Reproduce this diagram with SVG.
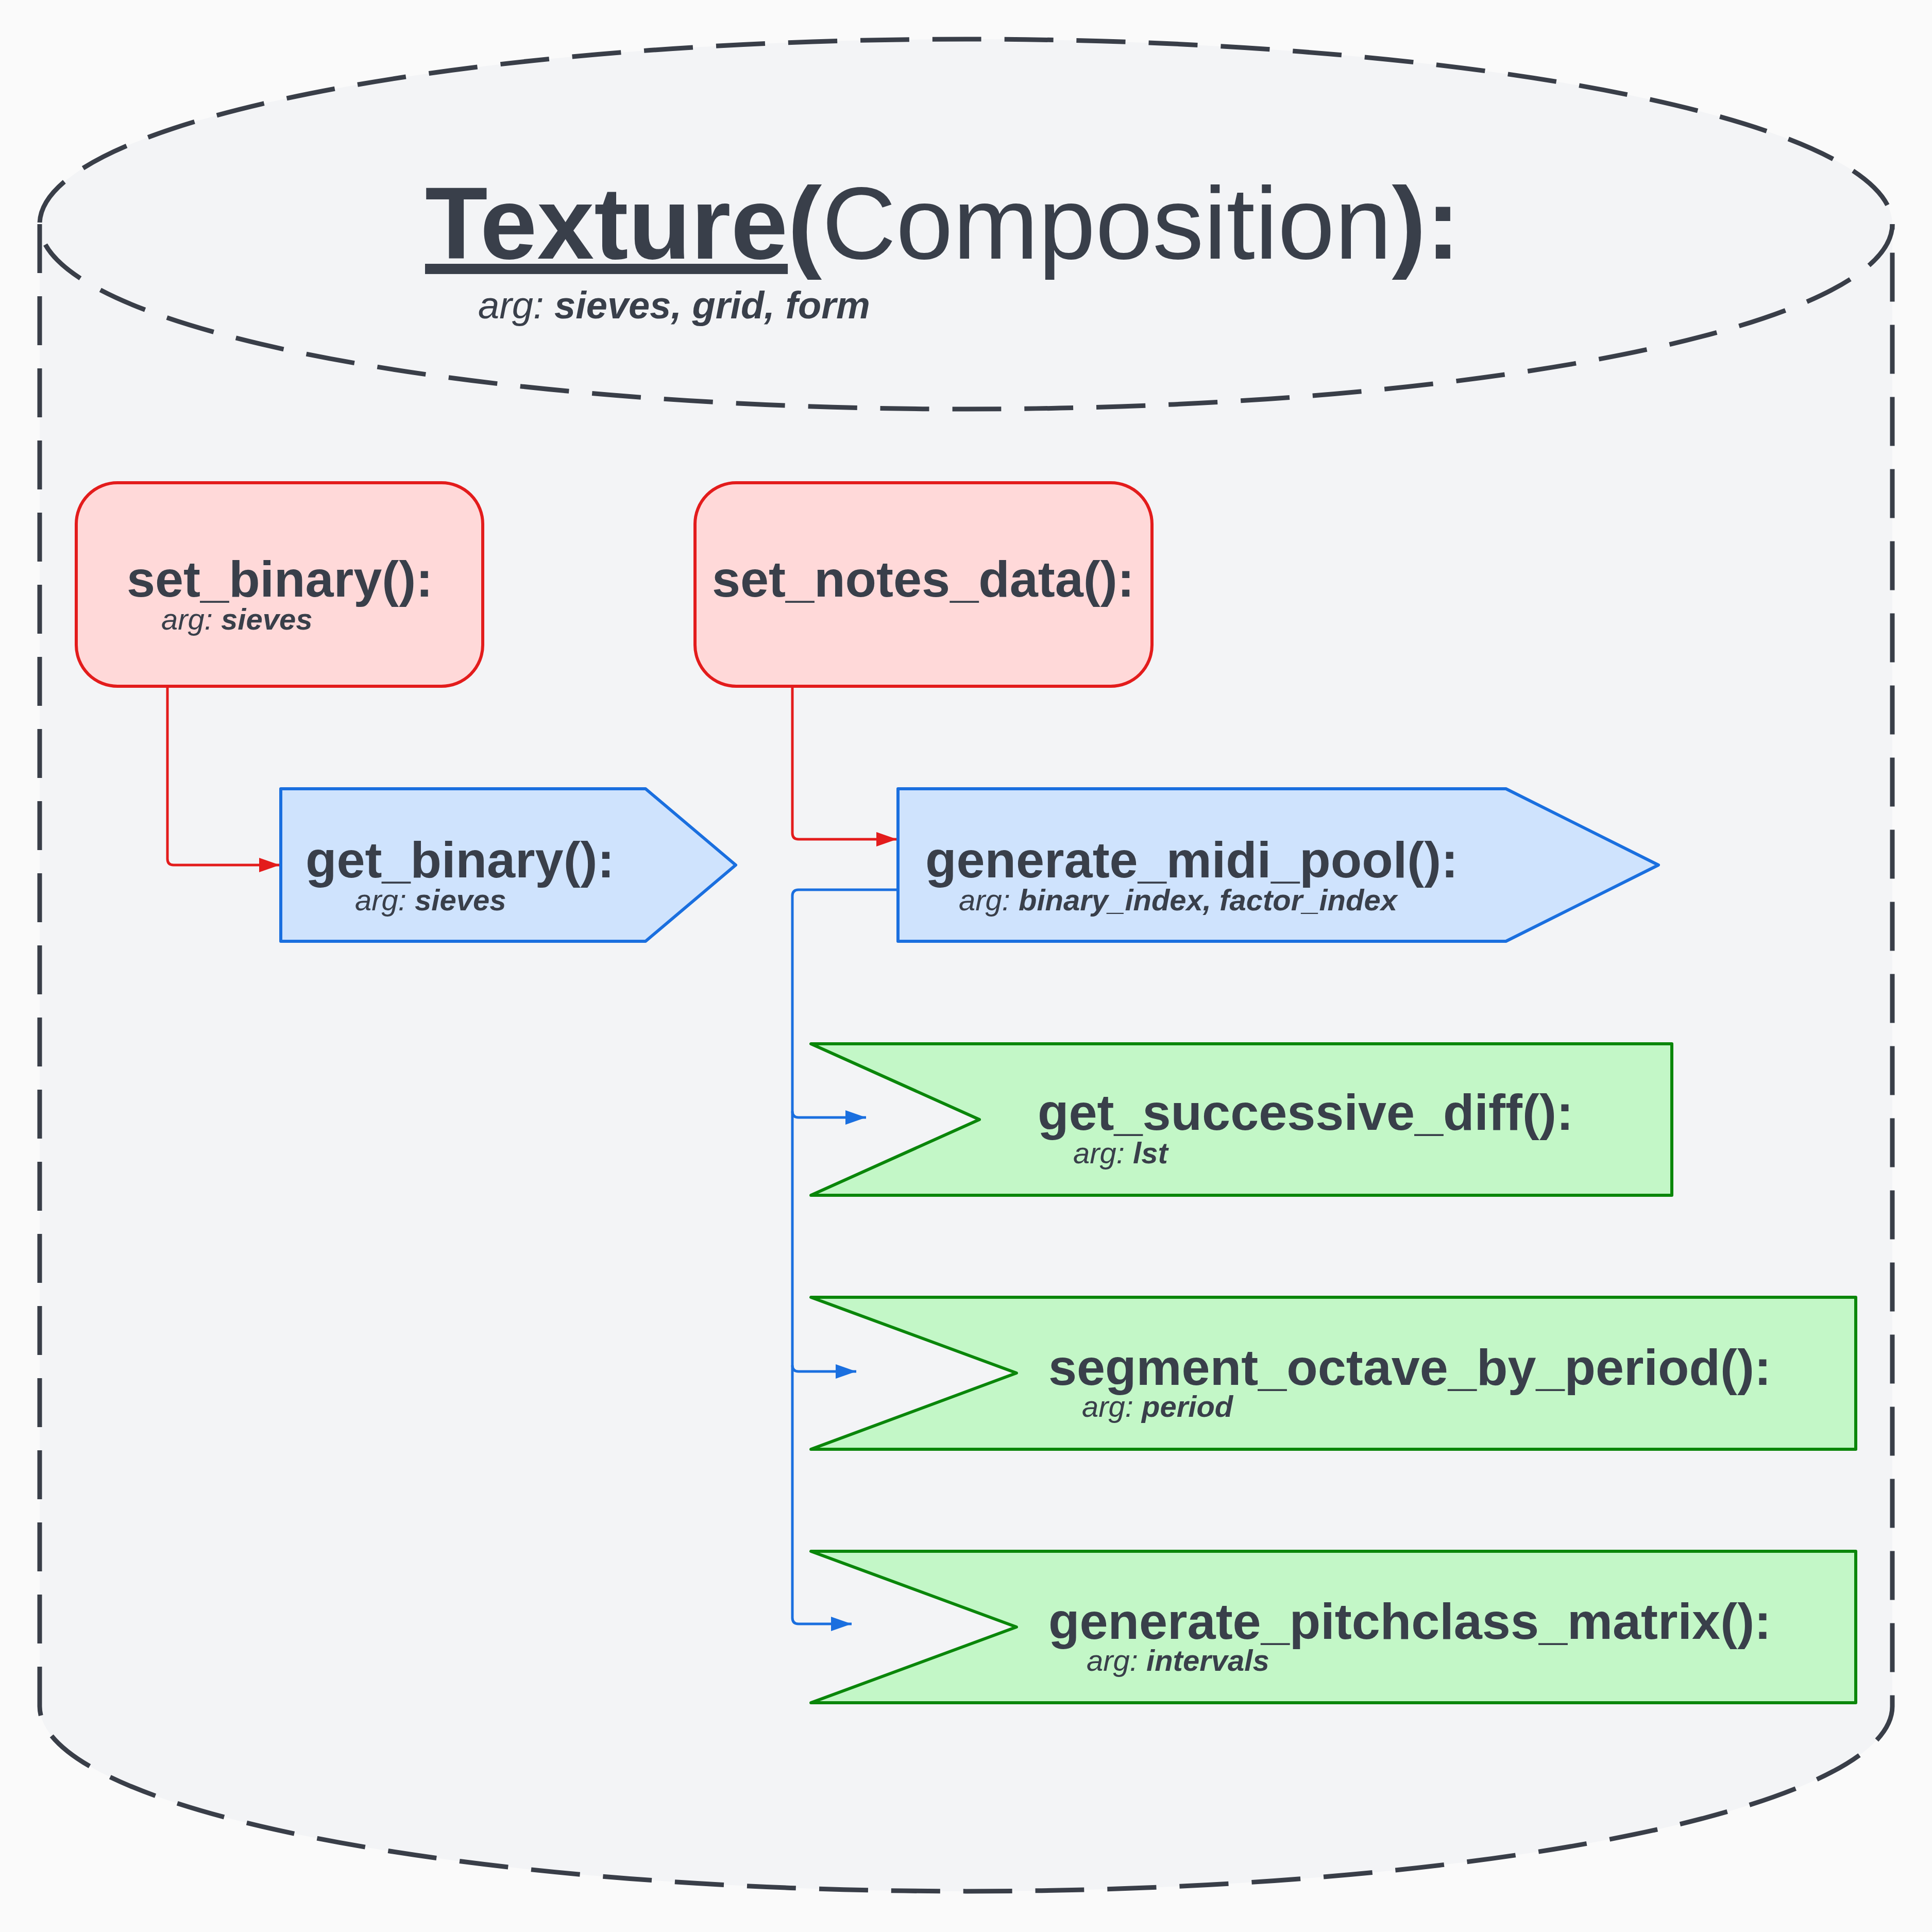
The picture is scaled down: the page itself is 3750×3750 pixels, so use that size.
<svg xmlns="http://www.w3.org/2000/svg" width="3750" height="3750" viewBox="0 0 3750 3750">
<style>
text{font-family:"Liberation Sans",Arial,sans-serif;fill:#393f4a}
.fn{font-weight:bold;font-size:99px}
.arg{font-style:italic;font-size:58px}
.arg tspan{font-weight:bold}
.red{fill:#ffd9d9;stroke:#e31c1c;stroke-width:6}
.blue{fill:#cfe3fd;stroke:#1a6fdf;stroke-width:6;stroke-linejoin:round}
.green{fill:#c3f7c7;stroke:#0a860a;stroke-width:6;stroke-linejoin:round}
.cyl{fill:none;stroke:#393e48;stroke-width:9;stroke-dasharray:95 45}
.cr{fill:none;stroke:#e31c1c;stroke-width:5}
.cb{fill:none;stroke:#1a6fdf;stroke-width:5}
</style>
<defs>
<marker id="ar" markerUnits="userSpaceOnUse" markerWidth="42" markerHeight="28" refX="40" refY="14" orient="auto"><path d="M0,0 L40,14 L0,28 Z" fill="#e31c1c"/></marker>
<marker id="ab" markerUnits="userSpaceOnUse" markerWidth="42" markerHeight="28" refX="40" refY="14" orient="auto"><path d="M0,0 L40,14 L0,28 Z" fill="#1a6fdf"/></marker>
</defs>
<rect width="3750" height="3750" fill="#fafafa"/>
<g id="container">
<path d="M77 435 L77 3312 A1798 359 0 0 0 3673 3312 L3673 435 A1798 359 0 0 0 77 435 Z" fill="#f3f4f6"/>
<path class="cyl" d="M77 435 L77 3312 A1798 359 0 0 0 3673 3312 L3673 435"/>
<ellipse class="cyl" cx="1875" cy="435" rx="1798" ry="359"/>
<text x="825" y="502" font-size="199"><tspan font-weight="bold" text-decoration="underline">Texture</tspan><tspan font-weight="bold">(</tspan>Composition<tspan font-weight="bold">):</tspan></text>
<text class="arg" x="928" y="618" style="font-size:74px">arg: <tspan>sieves, grid, form</tspan></text>
</g>
<g id="connectors">
<path class="cr" d="M325 1332 L325 1667 Q325 1679 337 1679 L543 1679" marker-end="url(#ar)"/>
<path class="cr" d="M1538 1332 L1538 1617 Q1538 1629 1550 1629 L1741 1629" marker-end="url(#ar)"/>
<path class="cb" d="M1743 1727 L1550 1727 Q1538 1727 1538 1739 L1538 3140 Q1538 3152 1550 3152 L1653 3152" marker-end="url(#ab)"/>
<path class="cb" d="M1538 2157 Q1538 2169 1550 2169 L1681 2169" marker-end="url(#ab)"/>
<path class="cb" d="M1538 2650 Q1538 2662 1550 2662 L1662 2662" marker-end="url(#ab)"/>
</g>
<g id="set_binary">
<rect class="red" x="148" y="937" width="789" height="395" rx="80" ry="80"/>
<text class="fn" x="246" y="1158">set_binary():</text>
<text class="arg" x="313" y="1222">arg: <tspan>sieves</tspan></text>
</g>
<g id="set_notes_data">
<rect class="red" x="1349" y="937" width="887" height="395" rx="80" ry="80"/>
<text class="fn" x="1382" y="1158">set_notes_data():</text>
</g>
<g id="get_binary">
<path class="blue" d="M545 1531 L1253 1531 L1428 1679 L1253 1827 L545 1827 Z"/>
<text class="fn" x="593" y="1703">get_binary():</text>
<text class="arg" x="689" y="1767">arg: <tspan>sieves</tspan></text>
</g>
<g id="generate_midi_pool">
<path class="blue" d="M1743 1531 L2923 1531 L3219 1679 L2923 1827 L1743 1827 Z"/>
<text class="fn" x="1796" y="1703">generate_midi_pool():</text>
<text class="arg" x="1861" y="1767">arg: <tspan>binary_index, factor_index</tspan></text>
</g>
<g id="get_successive_diff">
<path class="green" d="M1574 2026 L3245 2026 L3245 2320 L1574 2320 L1901 2173 Z"/>
<text class="fn" x="2014" y="2193">get_successive_diff():</text>
<text class="arg" x="2083" y="2258">arg: <tspan>lst</tspan></text>
</g>
<g id="segment_octave_by_period">
<path class="green" d="M1574 2518 L3602 2518 L3602 2813 L1574 2813 L1973 2665 Z"/>
<text class="fn" x="2035" y="2688">segment_octave_by_period():</text>
<text class="arg" x="2100" y="2750">arg: <tspan>period</tspan></text>
</g>
<g id="generate_pitchclass_matrix">
<path class="green" d="M1574 3011 L3602 3011 L3602 3305 L1574 3305 L1973 3158 Z"/>
<text class="fn" x="2035" y="3181">generate_pitchclass_matrix():</text>
<text class="arg" x="2109" y="3243">arg: <tspan>intervals</tspan></text>
</g>
</svg>
